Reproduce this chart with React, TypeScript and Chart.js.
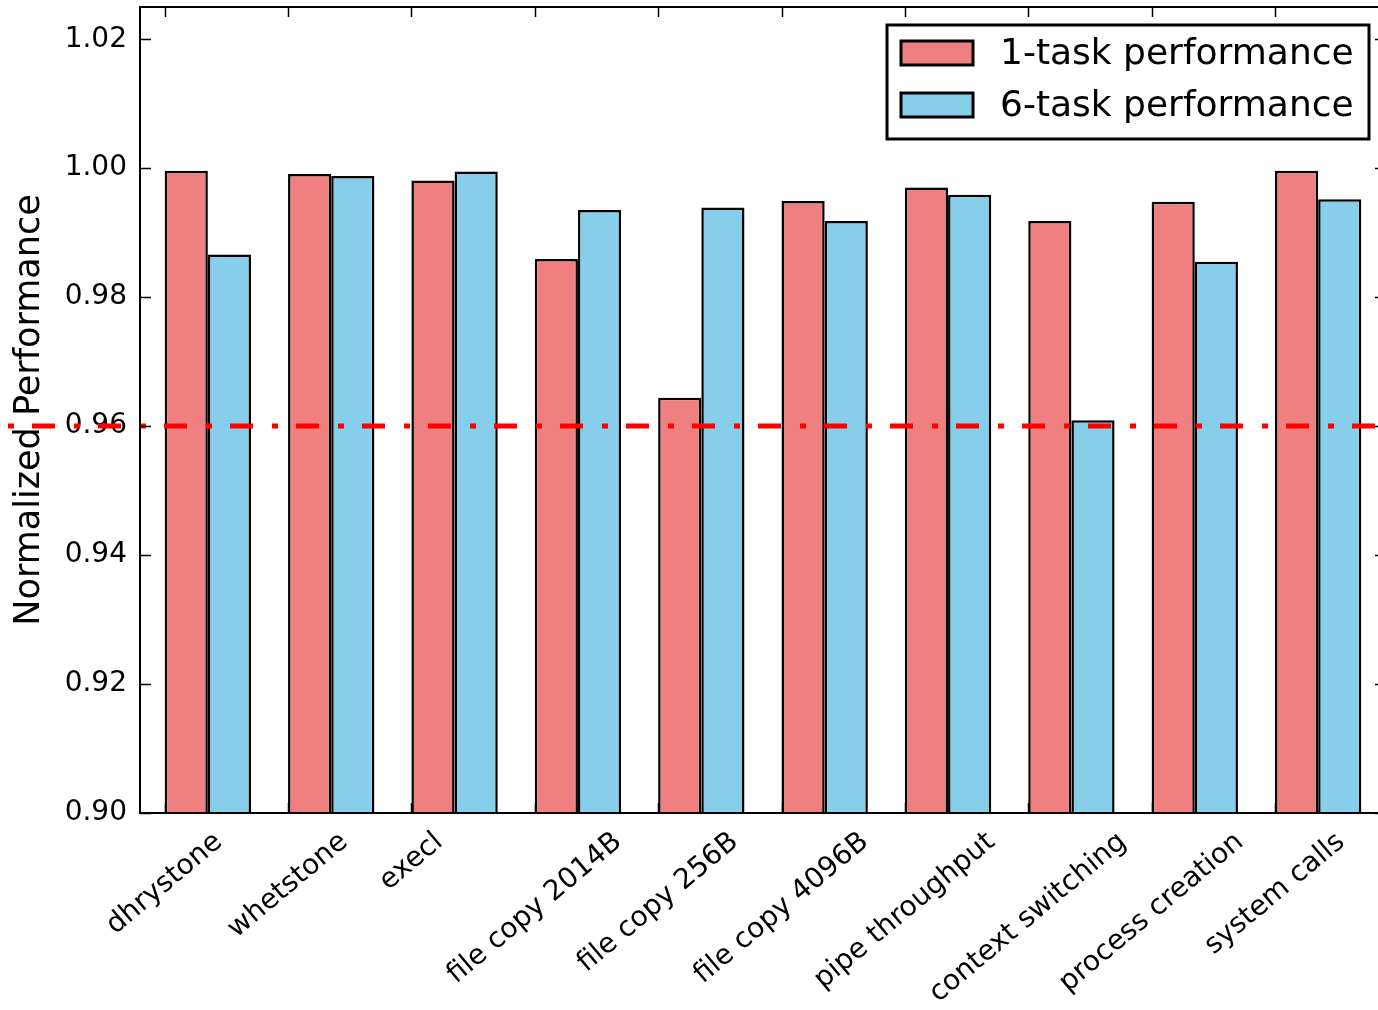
import React, { useEffect, useRef } from 'react';
import { Chart, registerables } from 'chart.js';

Chart.register(...registerables);

// ---------- data ----------
const categories = [
  'dhrystone',
  'whetstone',
  'execl',
  'file copy 2014B',
  'file copy 256B',
  'file copy 4096B',
  'pipe throughput',
  'context switching',
  'process creation',
  'system calls',
];
const seriesLabels = ['1-task performance', '6-task performance'];
const oneTask = [0.9996, 0.9991, 0.9981, 0.9859, 0.9644, 0.9949, 0.997, 0.9918, 0.9948, 0.9996];
const sixTask = [0.9866, 0.9988, 0.9995, 0.9935, 0.9939, 0.9918, 0.9959, 0.9609, 0.9855, 0.9952];
const yTicks = [0.9, 0.92, 0.94, 0.96, 0.98, 1.0, 1.02];
const refLevel = 0.96;
const refLineX = [-1.27, 9.9];

// ---------- style / layout ----------
const FONT = "'DejaVu Sans', 'Liberation Sans', sans-serif";
const RED = '#F08080';
const BLUE = '#87CEEB';
const BAR_W = 0.35;
const X_MIN = -0.2;
const X_MAX = 9.9;
const Y_MIN = 0.9;
const Y_MAX = 1.025;
const VIEW_W = 1378;
const VIEW_H = 1010;
const CANVAS_W = 1394;
const AXES_RIGHT = 1386;

const zeroPad = (s: any) => {
  s.paddingTop = 0;
  s.paddingBottom = 0;
  s.paddingLeft = 0;
  s.paddingRight = 0;
};

const refLinePlugin = {
  id: 'refLine',
  afterDatasetsDraw(chart: any) {
    const { ctx } = chart;
    const xs = chart.scales.x;
    const ys = chart.scales.y;
    const py = ys.getPixelForValue(refLevel);
    const x0 = xs.getPixelForValue(refLineX[0]);
    const x1 = xs.getPixelForValue(refLineX[1]);
    ctx.save();
    ctx.strokeStyle = '#FF0000';
    ctx.lineWidth = 5;
    ctx.setLineDash([23, 19, 6, 18]);
    ctx.lineDashOffset = 42;
    ctx.beginPath();
    ctx.moveTo(x0, py);
    ctx.lineTo(x1, py);
    ctx.stroke();
    ctx.restore();
  },
};

const decorPlugin = {
  id: 'decor',
  afterDraw(chart: any) {
    const { ctx, chartArea } = chart;
    const xs = chart.scales.x;
    const ys = chart.scales.y;
    const { left, right, top, bottom } = chartArea;
    ctx.save();

    // frame
    ctx.strokeStyle = '#000';
    ctx.lineWidth = 2;
    ctx.strokeRect(left, top, right - left, bottom - top);

    // inward ticks
    ctx.beginPath();
    yTicks.forEach((v) => {
      const py = Math.round(ys.getPixelForValue(v)) + 0.5;
      ctx.moveTo(left, py);
      ctx.lineTo(left + 11, py);
      ctx.moveTo(right, py);
      ctx.lineTo(right - 11, py);
    });
    categories.forEach((_, i) => {
      const px = Math.round(xs.getPixelForValue(i)) + 0.5;
      ctx.moveTo(px, top);
      ctx.lineTo(px, top + 10);
      ctx.moveTo(px, bottom);
      ctx.lineTo(px, bottom - 10);
    });
    ctx.lineWidth = 1.5;
    ctx.stroke();

    // rotated, centred category labels
    const fs = 28;
    ctx.font = `${fs}px ${FONT}`;
    ctx.fillStyle = '#000';
    ctx.textAlign = 'center';
    ctx.textBaseline = 'middle';
    const th = (40 * Math.PI) / 180;
    categories.forEach((lab, i) => {
      const px = xs.getPixelForValue(i);
      const w = ctx.measureText(lab).width;
      const h = fs * 1.16;
      const H = w * Math.sin(th) + h * Math.cos(th);
      const cy = bottom + 13 + H / 2;
      ctx.save();
      ctx.translate(px, cy);
      ctx.rotate(-th);
      ctx.fillText(lab, 0, 0);
      ctx.restore();
    });

    // legend box
    const bw = 482;
    const bh = 114;
    const bx = right - 17 - bw;
    const by = top + 18;
    ctx.fillStyle = '#fff';
    ctx.fillRect(bx, by, bw, bh);
    ctx.lineWidth = 3;
    ctx.strokeStyle = '#000';
    ctx.strokeRect(bx, by, bw, bh);
    const colors = [RED, BLUE];
    ctx.font = `36px ${FONT}`;
    ctx.textAlign = 'left';
    ctx.textBaseline = 'middle';
    seriesLabels.forEach((lab, k) => {
      const cyRow = by + 28 + k * 52;
      ctx.fillStyle = colors[k];
      ctx.fillRect(bx + 14, cyRow - 12, 72, 24);
      ctx.lineWidth = 3;
      ctx.strokeStyle = '#000';
      ctx.strokeRect(bx + 14, cyRow - 12, 72, 24);
      ctx.fillStyle = '#000';
      ctx.fillText(lab, bx + 113, cyRow + 1.5);
    });

    ctx.restore();
  },
};

export default function App() {
  const ref = useRef<HTMLCanvasElement | null>(null);

  useEffect(() => {
    if (!ref.current) return;
    const chart = new Chart(ref.current, {
      type: 'bar',
      data: {
        datasets: [
          {
            label: seriesLabels[0],
            data: oneTask.map((v, i) => ({ x: i + BAR_W, y: v })),
            backgroundColor: RED,
            borderColor: '#000',
            borderWidth: 2.5,
            borderSkipped: false,
          } as any,
          {
            label: seriesLabels[1],
            data: sixTask.map((v, i) => ({ x: i + BAR_W, y: v })),
            backgroundColor: BLUE,
            borderColor: '#000',
            borderWidth: 2.5,
            borderSkipped: false,
          } as any,
        ],
      },
      options: {
        responsive: false,
        animation: false,
        events: [],
        layout: { padding: { left: 0, top: 7, right: CANVAS_W - AXES_RIGHT, bottom: 0 }, autoPadding: false },
        datasets: { bar: { grouped: true, categoryPercentage: 2 * BAR_W, barPercentage: 1 } } as any,
        plugins: { legend: { display: false }, tooltip: { enabled: false }, title: { display: false } },
        scales: {
          x: {
            type: 'linear',
            min: X_MIN,
            max: X_MAX,
            offset: false,
            grid: { display: false },
            border: { display: false },
            ticks: { display: false },
            afterBuildTicks: (s: any) => {
              s.ticks = categories.map((_, i) => ({ value: i }));
            },
            afterFit: (s: any) => {
              s.height = 197;
              zeroPad(s);
            },
          },
          y: {
            type: 'linear',
            min: Y_MIN,
            max: Y_MAX,
            grid: { display: false, drawTicks: false },
            border: { display: false },
            ticks: {
              padding: 13,
              color: '#000',
              font: { family: FONT, size: 28 },
              callback: (v: any) => Number(v).toFixed(2),
            },
            afterBuildTicks: (s: any) => {
              s.ticks = yTicks.map((v) => ({ value: v }));
            },
            afterFit: (s: any) => {
              s.width = 140;
              zeroPad(s);
            },
            title: {
              display: true,
              text: 'Normalized Performance',
              color: '#000',
              font: { family: FONT, size: 35 },
              padding: { top: 9, bottom: 0 },
            },
          },
        },
      } as any,
      plugins: [refLinePlugin, decorPlugin],
    });
    return () => chart.destroy();
  }, []);

  return (
    <div
      style={{
        position: 'fixed',
        left: 0,
        top: 0,
        width: VIEW_W,
        height: VIEW_H,
        overflow: 'hidden',
        background: '#fff',
      }}
    >
      <canvas
        ref={ref}
        width={CANVAS_W}
        height={VIEW_H}
        style={{ width: CANVAS_W, height: VIEW_H, display: 'block' }}
      />
    </div>
  );
}
